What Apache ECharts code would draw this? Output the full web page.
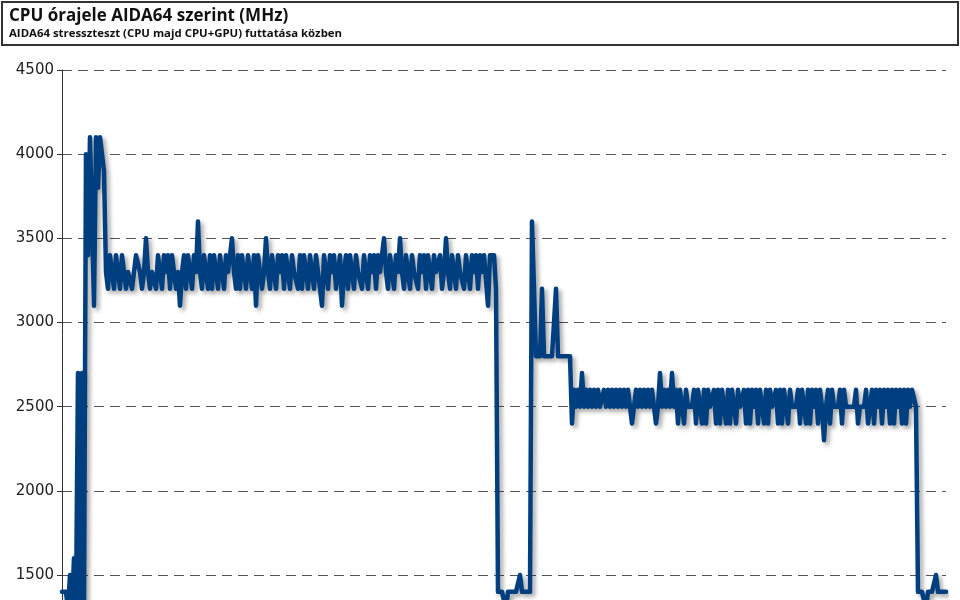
<!DOCTYPE html>
<html>
<head>
<meta charset="utf-8">
<script src="https://cdn.jsdelivr.net/npm/echarts@6/dist/echarts.min.js"></script>
<style>html,body{margin:0;padding:0;background:#fff}#c{width:960px;height:600px}</style>
</head>
<body>
<div id="c"></div>
<script>
const titleText = 'CPU órajele AIDA64 szerint (MHz)';
const subText = 'AIDA64 stresszteszt (CPU majd CPU+GPU) futtatása közben';
const yTicks = [1000, 1500, 2000, 2500, 3000, 3500, 4000, 4500];

// MHz samples, left to right (one sample per step)
const rampUp = [1400,1400,1400,1300,1500,1300,1600,1300,2700,1300,2700,1300,4000,3400,4100,4100,3100,4100,3800,4100,4100,3900];
const cpuLoad = [
3300,3200,3400,3300,3200,3400,3300,3200,3400,3300,
3200,3300,3300,3200,3300,3400,3400,3300,3200,3300,
3500,3300,3200,3300,3300,3200,3400,3300,3200,3400,
3300,3400,3200,3400,3300,3200,3300,3100,3300,3400,
3200,3400,3300,3200,3400,3300,3600,3300,3200,3400,
3300,3200,3400,3200,3400,3300,3200,3400,3300,3200,
3400,3300,3400,3500,3300,3200,3400,3200,3400,3300,
3200,3400,3300,3200,3400,3100,3400,3300,3200,3300,
3500,3300,3200,3400,3300,3200,3400,3300,3400,3200,
3400,3300,3200,3400,3300,3300,3200,3400,3200,3400,
3300,3200,3400,3300,3200,3400,3300,3200,3100,3400,
3300,3200,3400,3300,3400,3200,3300,3400,3100,3300,
3400,3200,3400,3300,3200,3400,3300,3300,3200,3400,
3300,3200,3400,3300,3400,3200,3400,3300,3300,3500,
3300,3200,3400,3300,3200,3400,3300,3500,3300,3200,
3400,3300,3200,3400,3300,3300,3200,3400,3300,3400,
3200,3400,3300,3200,3400,3300,3300,3400,3200,3300,
3500,3300,3200,3400,3300,3200,3400,3300,3300,3200,
3400,3300,3200,3400,3300,3400,3200,3400,3300,3400,
3400,3100,3400,3400,3400,3200
];
const pause1 = [1400,1400,1400,1400,1300,1400,1400,1400,1400,1400,1400,1500,1400,1400,1400,1400,1400];
const gpuStart = [3600,3200,2800,2800,2800,3200,2800,2800,2800,2800,2800,2800,3200,2800,2800,2800,2800,2800,2800,2800,2400,2600,2500,2600,2500,2700,2500];
const cpuGpuLoad = [
2600,2500,2600,2500,2600,2500,2600,2500,2500,2600,
2500,2600,2500,2600,2500,2600,2500,2600,2500,2600,
2500,2600,2500,2400,2500,2600,2500,2600,2500,2600,
2500,2600,2500,2600,2500,2400,2500,2700,2500,2600,
2500,2600,2500,2700,2500,2600,2400,2600,2500,2400,
2600,2500,2500,2500,2600,2400,2600,2500,2400,2600,
2400,2600,2500,2500,2600,2400,2600,2400,2600,2500,
2400,2600,2400,2600,2500,2400,2600,2500,2500,2600,
2400,2600,2400,2600,2500,2600,2400,2600,2500,2400,
2600,2400,2600,2500,2500,2600,2400,2600,2400,2600,
2500,2400,2600,2500,2500,2500,2600,2400,2600,2500,
2400,2600,2400,2600,2500,2600,2400,2600,2500,2300,
2500,2600,2400,2600,2500,2500,2500,2600,2400,2600,
2500,2500,2500,2500,2500,2600,2400,2500,2500,2500,
2600,2400,2500,2600,2400,2600,2500,2600,2400,2600,
2500,2600,2400,2600,2400,2600,2500,2600,2400,2600,
2400,2600,2500,2600,2600,2500
];
const pause2 = [1400,1400,1400,1400,1300,1400,1400,1400,1400,1500,1400,1400,1400,1400,1400];

const mhz = [].concat(rampUp, cpuLoad, pause1, gpuStart, cpuGpuLoad, pause2);
const samples = mhz.map((_, i) => i);

const chart = echarts.init(document.getElementById('c'), null, {renderer: 'canvas'});
chart.setOption({
  backgroundColor: '#ffffff',
  animation: false,
  graphic: [{
    type: 'rect', left: 1, top: 1, z: -1,
    shape: {width: 956, height: 43},
    style: {fill: '#ffffff', stroke: '#333333', lineWidth: 2}
  }],
  title: {
    text: titleText,
    subtext: subText,
    left: 9, top: 8, padding: 0, itemGap: 3,
    textStyle: {fontFamily: 'Open Sans', fontWeight: 'bold', fontSize: 17, color: '#111'},
    subtextStyle: {fontFamily: 'Open Sans', fontWeight: 'bold', fontSize: 11.4, color: '#111'}
  },
  grid: {left: 62, top: 70, width: 884, height: 589.2, containLabel: false, outerBoundsMode: 'none'},
  xAxis: {
    type: 'category', data: samples, boundaryGap: false,
    axisLine: {show: false}, axisTick: {show: false}, axisLabel: {show: false},
    splitLine: {show: false}
  },
  yAxis: {
    type: 'value', min: yTicks[0], max: yTicks[yTicks.length - 1], interval: 500,
    axisLine: {show: true, lineStyle: {color: '#333', width: 1}},
    axisTick: {show: true, length: 5, lineStyle: {color: '#333'}},
    axisLabel: {fontFamily: 'DejaVu Sans', fontSize: 15, color: '#222', margin: 8,
      formatter: v => String(v)},
    splitLine: {show: true, lineStyle: {color: '#555', width: 1, type: [10, 6]}}
  },
  series: [{
    type: 'line', data: mhz, showSymbol: false, smooth: false, clip: true,
    lineStyle: {color: '#003f7f', width: 4.5, join: 'round', cap: 'round',
      shadowColor: 'rgba(0,0,0,0.35)', shadowBlur: 4, shadowOffsetX: 3, shadowOffsetY: 3}
  }]
});
</script>
</body>
</html>
